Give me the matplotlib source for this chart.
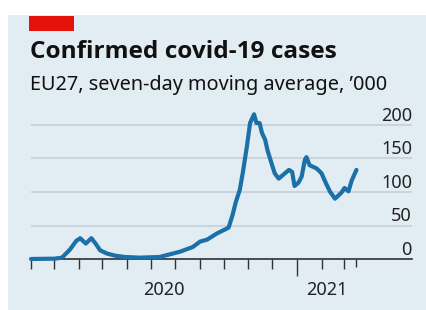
import pandas as pd
import matplotlib.pyplot as plt
import matplotlib.transforms as mtransforms
from matplotlib.patches import Rectangle

plt.rcParams['font.family'] = ['Noto Sans', 'DejaVu Sans']

# seven-day moving average of confirmed cases, EU27, '000
dates = pd.to_datetime([
    '2020-02-01', '2020-03-02', '2020-03-11', '2020-03-21', '2020-03-29',
    '2020-04-03', '2020-04-10', '2020-04-17', '2020-04-23', '2020-04-28',
    '2020-05-07', '2020-05-17', '2020-05-29', '2020-06-17', '2020-07-12',
    '2020-08-07', '2020-08-23', '2020-09-01', '2020-09-10', '2020-09-22',
    '2020-10-04', '2020-10-07', '2020-10-12', '2020-10-16', '2020-10-21',
    '2020-10-25', '2020-10-30', '2020-11-03', '2020-11-08', '2020-11-11',
    '2020-11-15', '2020-11-18', '2020-11-22', '2020-11-25', '2020-11-30',
    '2020-12-04', '2020-12-09', '2020-12-14', '2020-12-22', '2020-12-26',
    '2020-12-29', '2021-01-03', '2021-01-07', '2021-01-11', '2021-01-13',
    '2021-01-17', '2021-01-26', '2021-02-01', '2021-02-07', '2021-02-12',
    '2021-02-18', '2021-02-26', '2021-03-02', '2021-03-07', '2021-03-11',
    '2021-03-17',
])
cases = [
    0, 0.5, 2, 14, 27,
    31, 23, 31, 22, 13,
    8, 5, 3, 2, 3,
    11, 18, 26, 29, 38,
    45, 47, 66, 85, 103,
    130, 168, 203, 216, 203,
    203, 188, 178, 162, 143,
    128, 120, 125, 133, 130,
    109, 114, 123, 148, 152,
    140, 135, 128, 112, 100,
    90, 99, 106, 101, 117,
    133,
]

y_ticks = [0, 50, 100, 150, 200]
month_ticks = pd.date_range('2020-02-01', '2021-03-01', freq='MS')
year_ticks = pd.to_datetime(['2020-07-17', '2021-02-08'])
year_labels = ['2020', '2021']

W, H = 426, 310
fig = plt.figure(figsize=(W / 100, H / 100), dpi=100, facecolor='white')

# light blue panel and red tag
fig.patches.append(Rectangle((8 / W, 0), 1, 1 - 15 / H, transform=fig.transFigure,
                             facecolor='#e2ecf3', edgecolor='none', zorder=-2))
fig.patches.append(Rectangle((29 / W, 1 - 31 / H), 45 / W, 15 / H, transform=fig.transFigure,
                             facecolor='#e3120b', edgecolor='none', zorder=-1))

fig.text(30 / W, 1 - 58.5 / H, 'Confirmed covid-19 cases', fontsize=17.6, family='Open Sans',
         fontweight='bold', va='baseline', color='#111111')
fig.text(30 / W, 1 - 90 / H, 'EU27, seven-day moving average, \u2019000', fontsize=14.3,
         va='baseline', color='#111111')

ax = fig.add_axes([31 / W, 1 - 259 / H, (412 - 31) / W, (259 - 108.25) / H])
ax.set_facecolor('none')
ax.set_xlim(pd.Timestamp('2020-02-01'), pd.Timestamp('2020-02-01') + pd.Timedelta(days=480))
ax.set_ylim(0, 225)

ax.plot(dates, cases, color='#1b70a7', lw=3.0, solid_capstyle='round',
        solid_joinstyle='round', clip_on=False, zorder=3)

# gridlines and right-hand labels sitting on them
ax.set_yticks(y_ticks)
ax.yaxis.grid(True, color='#c3cdd5', lw=1.1)
ax.tick_params(axis='y', length=0, labelleft=False)
lab_tr = mtransforms.offset_copy(ax.get_yaxis_transform(), fig=fig, y=3.2, units='points')
for v in y_ticks:
    ax.text(1, v, str(v), transform=lab_tr, ha='right', va='baseline', fontsize=13, color='#222222')

for s in ['top', 'left', 'right']:
    ax.spines[s].set_visible(False)
ax.spines['bottom'].set_color('#333333')
ax.spines['bottom'].set_linewidth(1.2)
ax.set_axisbelow(True)

# month ticks, longer one at the new year, plus end-of-data tick
ax.set_xticks(list(month_ticks) + [dates[-1]])
ax.tick_params(axis='x', which='major', length=7.5, width=1, color='#333333', labelbottom=False)
ax.set_xticks(year_ticks, labels=year_labels, minor=True)
ax.tick_params(axis='x', which='minor', length=0, pad=15.5, labelsize=13, labelcolor='#222222')

ticks = ax.xaxis.get_major_ticks()
ticks[list(month_ticks).index(pd.Timestamp('2021-01-01'))].tick1line.set_markersize(12.5)
ticks[-1].tick1line.set_markersize(6)

fig.savefig('out.png', dpi=100, facecolor=fig.get_facecolor())
